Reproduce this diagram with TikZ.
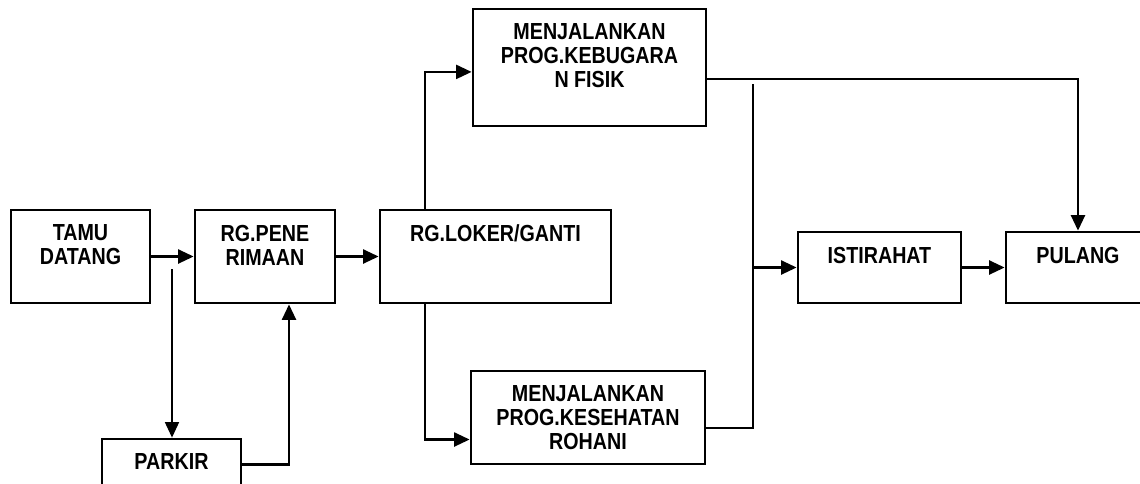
\documentclass[tikz,border=0pt]{standalone}
\usepackage{fontspec}
\setmainfont{Liberation Sans}
\usetikzlibrary{arrows.meta}
\newcommand{\tallcap}[1]{\scalebox{1}[1.18]{#1}}

\begin{document}
\begin{tikzpicture}[
    x=0.025cm, y=-0.025cm,
    box/.style={draw, line width=2pt, minimum height=2.325cm, inner sep=0pt},
    boxtxt/.style={anchor=north, align=center, inner sep=0pt, yshift=-0.40cm,
        font=\fontsize{14}{17}\selectfont\bfseries},
    flow/.style={line width=1.5pt},
    arr/.style={flow, -{Triangle[length=11pt, width=10pt]}},
]
\useasboundingbox (0,0) rectangle (1140,483);
\clip (0,0) rectangle (1140,483);

% Arrival and reception
\node[box, minimum width=3.475cm, label={[boxtxt]north:\tallcap{TAMU}\\\tallcap{DATANG}}] (tamu) at (80.5,256.5) {};
\node[box, minimum width=3.5cm, label={[boxtxt]north:\tallcap{RG.PENE}\\\tallcap{RIMAAN}}] (pene) at (265,256.5) {};
\node[box, minimum width=3.475cm, minimum height=1.275cm, label={[boxtxt]north:\tallcap{PARKIR}}] (parkir) at (171.5,464.5) {};

% Locker room and the two programmes
\node[box, minimum width=5.775cm, label={[boxtxt]north:\tallcap{RG.LOKER/GANTI}}] (loker) at (495.5,256.5) {};
\node[box, minimum width=5.825cm, minimum height=2.925cm,
    label={[boxtxt]north:\tallcap{MENJALANKAN}\\\tallcap{PROG.KEBUGARA}\\\tallcap{N FISIK}}] (bugar) at (589.5,67.5) {};
\node[box, minimum width=5.85cm,
    label={[boxtxt]north:\tallcap{MENJALANKAN}\\\tallcap{PROG.KESEHATAN}\\\tallcap{ROHANI}}] (rohani) at (588,417.5) {};

% Rest and leaving
\node[box, minimum width=4.075cm, minimum height=1.775cm, label={[boxtxt]north:\tallcap{ISTIRAHAT}}] (istirahat) at (879.5,267.5) {};
\node[box, minimum width=3.6cm, minimum height=1.775cm, label={[boxtxt]north:\tallcap{PULANG}}] (pulang) at (1078,267.5) {};

% Main flow
\draw[arr] (tamu) -- (pene);
\draw[arr] (pene) -- (loker);

% Detour via parking
\coordinate (park) at (172,269);
\draw[arr, line width=1pt] (park) -- (park |- parkir.north);
\draw[arr] (parkir.east) -| ([xshift=0.6cm]pene.south);

% Split to both programmes
\draw[arr] ([xshift=-1.76cm]loker.north) |- ([yshift=-0.11cm]bugar.west);
\draw[arr] ([xshift=-1.76cm]loker.south) |- ([yshift=-0.55cm]rohani.west);

% Rohani -> istirahat
\coordinate (jn) at (753,84);
\draw[flow] ([yshift=-0.26cm]rohani.east) -| (jn);
\draw[arr] (jn |- istirahat.west) -- (istirahat.west);

% Kebugaran -> pulang, istirahat -> pulang
\draw[arr] ([yshift=-0.29cm]bugar.east) -| (pulang.north);
\draw[arr] (istirahat) -- (pulang);

\end{tikzpicture}
\end{document}
